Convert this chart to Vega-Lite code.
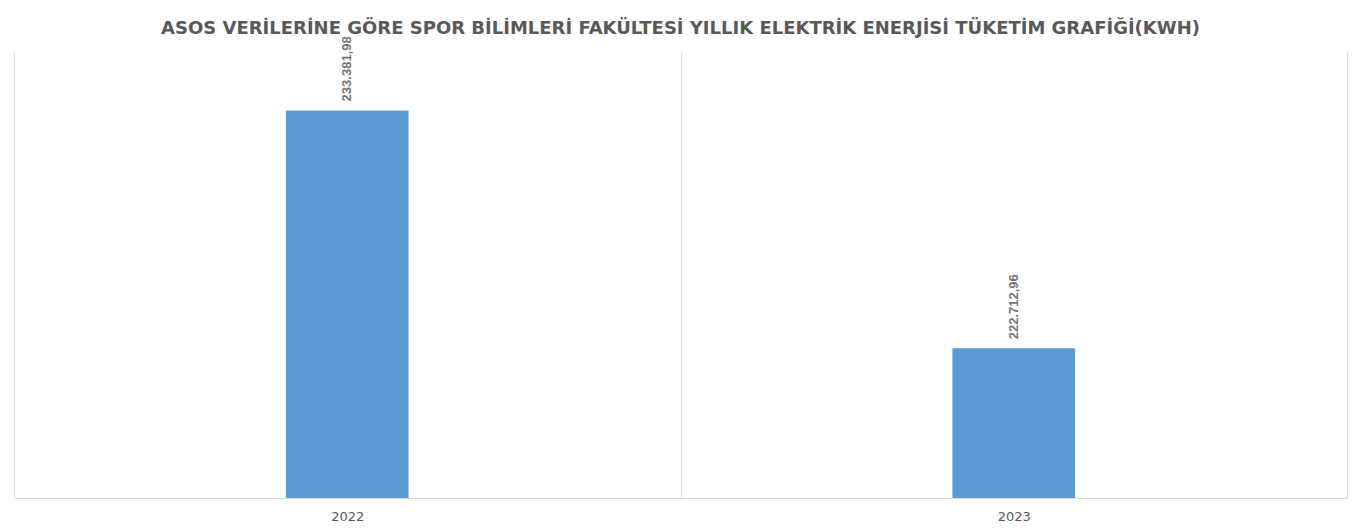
{
  "$schema": "https://vega.github.io/schema/vega-lite/v6.json",
  "autosize": "none",
  "width": 1333,
  "height": 446,
  "padding": {"left": 14, "top": 52, "right": 15, "bottom": 34},
  "background": "white",
  "title": {
    "text": "ASOS VERİLERİNE GÖRE SPOR BİLİMLERİ FAKÜLTESİ YILLIK ELEKTRİK ENERJİSİ TÜKETİM GRAFİĞİ(KWH)",
    "anchor": "middle",
    "font": "DejaVu Sans",
    "fontSize": 18,
    "fontWeight": "bold",
    "color": "#595959",
    "offset": -2
  },
  "data": {
    "values": [
      {"year": "2022", "kwh": 233381.98, "label": "233.381,98"},
      {"year": "2023", "kwh": 222712.96, "label": "222.712,96"}
    ]
  },
  "encoding": {
    "x": {
      "field": "year",
      "type": "nominal",
      "scale": {"paddingInner": 0, "paddingOuter": 0},
      "axis": {
        "title": null,
        "labelAngle": 0,
        "domainColor": "#d9d9d9",
        "ticks": false,
        "grid": true,
        "gridColor": "#d9d9d9",
        "tickBand": "extent",
        "labelPadding": 12,
        "labelFont": "DejaVu Sans",
        "labelFontSize": 13,
        "labelColor": "#595959"
      }
    },
    "y": {
      "field": "kwh",
      "type": "quantitative",
      "scale": {"domain": [216000, 236000], "zero": false, "nice": false},
      "axis": null
    }
  },
  "layer": [
    {"mark": {"type": "bar", "clip": true, "width": {"band": 0.184}, "color": "#5b9bd5"}},
    {
      "mark": {
        "type": "text",
        "angle": 270,
        "align": "left",
        "baseline": "middle",
        "dx": 9,
        "font": "Liberation Sans",
        "fontSize": 13,
        "fontWeight": "bold",
        "color": "#757575"
      },
      "encoding": {"text": {"field": "label"}}
    }
  ],
  "config": {"view": {"stroke": null}}
}
